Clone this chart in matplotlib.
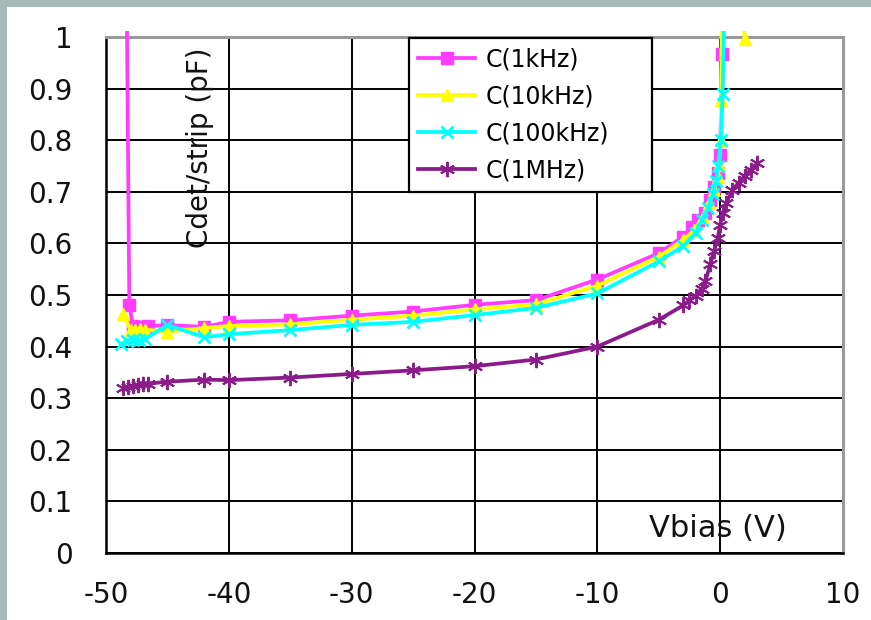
import matplotlib
matplotlib.use("Agg")
import matplotlib.pyplot as plt
from matplotlib.patches import Rectangle
from matplotlib.transforms import Bbox, TransformedBbox

plt.rcParams['font.family'] = ['DejaVu Sans']
plt.rcParams['axes.unicode_minus'] = False

# C-V scans of the detector, one per measuring frequency
v_1k = [-48.5, -48.1, -47.8, -47.4, -47.0, -46.6, -45, -42, -40, -35, -30, -25, -20, -15,
        -10, -5, -3, -2.3, -1.8, -1.2, -0.8, -0.5, -0.2, 0.0, 0.15, 0.2]
c_1k = [1.6, 0.48, 0.44, 0.438, 0.438, 0.439, 0.442, 0.438, 0.448, 0.451, 0.46, 0.468, 0.481, 0.49,
        0.53, 0.581, 0.613, 0.632, 0.645, 0.658, 0.684, 0.71, 0.736, 0.771, 0.968, 1.6]

v_10k = [-48.6, -48.0, -47.6, -47.2, -46.8, -45, -42, -40, -35, -30, -25, -20, -15,
         -10, -5, -3, -2.1, -1.4, -0.9, -0.5, -0.2, -0.1, 0.05, 0.06, 0.38, 2.0]
c_10k = [0.464, 0.432, 0.432, 0.434, 0.433, 0.429, 0.436, 0.44, 0.443, 0.452, 0.46, 0.472, 0.482,
         0.518, 0.574, 0.607, 0.626, 0.652, 0.678, 0.703, 0.729, 0.752, 0.80, 0.878, 1.6, 0.996]

v_100k = [-48.8, -48.3, -47.8, -47.3, -46.8, -45, -42, -40, -35, -30, -25, -20, -15,
          -10, -5, -3, -2, -1.5, -1, -0.6, -0.35, -0.15, 0.05, 0.2, 0.8]
c_100k = [0.405, 0.41, 0.413, 0.413, 0.415, 0.442, 0.418, 0.424, 0.432, 0.442, 0.448, 0.461, 0.475,
          0.503, 0.565, 0.595, 0.62, 0.645, 0.668, 0.695, 0.72, 0.75, 0.80, 0.89, 1.6]

v_1M = [-48.6, -48.2, -47.8, -47.4, -47.0, -46.6, -45, -42, -40, -35, -30, -25, -20, -15,
        -10, -5, -3, -2.5, -2, -1.5, -1.2, -0.8, -0.5, -0.2, 0.0, 0.2, 0.5, 1.0, 1.5, 2.0, 2.5, 3.0]
c_1M = [0.32, 0.322, 0.324, 0.325, 0.327, 0.328, 0.332, 0.336, 0.335, 0.34, 0.347, 0.354, 0.362, 0.375,
        0.40, 0.452, 0.48, 0.49, 0.498, 0.512, 0.527, 0.56, 0.585, 0.61, 0.636, 0.658, 0.678, 0.703,
        0.718, 0.731, 0.743, 0.755]

series = [
    ("C(1kHz)", v_1k, c_1k, "#ff3cff", "s", 9, 1.0),
    ("C(10kHz)", v_10k, c_10k, "#ffff00", "^", 9, 1.0),
    ("C(100kHz)", v_100k, c_100k, "#00ffff", "x", 9, 1.9),
    ("C(1MHz)", v_1M, c_1M, "#8b1a8b", (6, 2, 0), 11, 1.4),
]

fig = plt.figure(figsize=(8.71, 6.2), dpi=100)
fig.patch.set_facecolor("white")

# slide frame strips along the top and left edges
fig.patches.append(Rectangle((0, 1 - 7 / 620), 1, 7 / 620, transform=fig.transFigure,
                             facecolor="#a6bab7", edgecolor="none", zorder=0))
fig.patches.append(Rectangle((0, 0), 7 / 871, 1, transform=fig.transFigure,
                             facecolor="#a6bab7", edgecolor="none", zorder=0))

ax = fig.add_axes([106 / 871, 67 / 620, 737 / 871, 516 / 620])

# let the steep ends run a little past the top edge of the plot area
clip = TransformedBbox(Bbox([[0, 0], [1, 1.012]]), ax.transAxes)
for label, v, c, col, mk, ms, mew in series:
    line, = ax.plot(v, c, color=col, lw=2.7, marker=mk, ms=ms, mew=mew,
                    mec=col, mfc=col, label=label, zorder=3)
    line.set_clip_path(None)
    line.set_clip_box(clip)

ax.set_xlim(-50, 10)
ax.set_ylim(0, 1)
ax.set_xticks(range(-50, 11, 10))
ax.set_yticks([i / 10 for i in range(11)])
ax.set_yticklabels([f"{i / 10:g}" for i in range(11)])
ax.tick_params(length=0, labelsize=20, colors="#111111")
ax.tick_params(axis="y", pad=24)
ax.tick_params(axis="x", pad=20)

ax.grid(True, color="black", lw=1.4, zorder=1)
ax.set_axisbelow(True)
for side in ["left", "bottom"]:
    ax.spines[side].set_color("black")
    ax.spines[side].set_linewidth(1.8)
for side in ["top", "right"]:
    ax.spines[side].set_color("#9a9a9a")
    ax.spines[side].set_linewidth(2.2)

ax.text(0.128, 0.785, "Cdet/strip (pF)", transform=ax.transAxes, rotation=90,
        ha="center", va="center", fontsize=20, color="#111111")
ax.text(0.83, 0.047, "Vbias (V)", transform=ax.transAxes,
        ha="center", va="center", fontsize=22, color="#111111")

leg = ax.legend(loc="center", bbox_to_anchor=(0.411, 0.7016, 0.33, 0.2944), mode="expand",
                borderaxespad=0, fontsize=17, handlelength=2.4, handletextpad=0.45,
                labelspacing=0.55, borderpad=0.4, fancybox=False, framealpha=1,
                edgecolor="black")
leg.get_frame().set_linewidth(1.6)
leg.set_zorder(5)

fig.savefig("out.png", dpi=100)
